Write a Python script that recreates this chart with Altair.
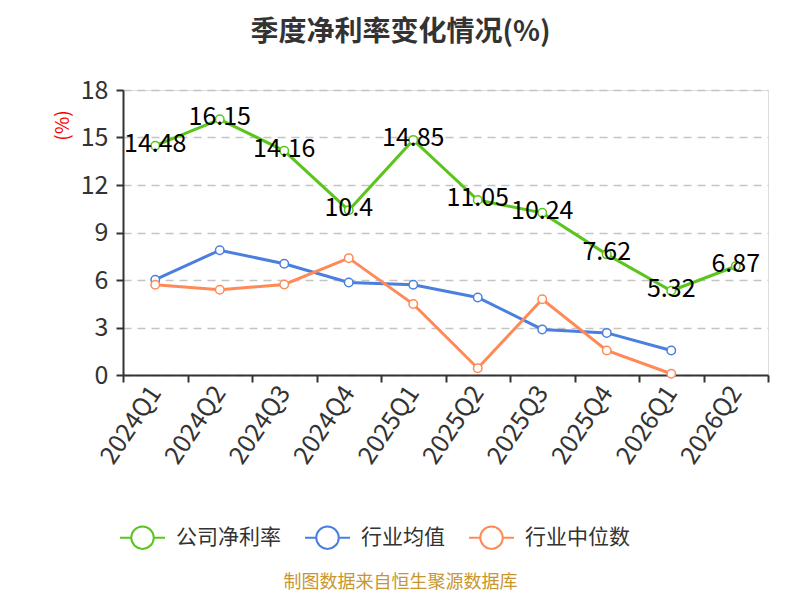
import altair as alt
import pandas as pd

quarters = ["2024Q1", "2024Q2", "2024Q3", "2024Q4", "2025Q1", "2025Q2",
            "2025Q3", "2025Q4", "2026Q1", "2026Q2"]
company = [14.48, 16.15, 14.16, 10.4, 14.85, 11.05, 10.24, 7.62, 5.32, 6.87]
industry_mean = [6.02, 7.88, 7.03, 5.84, 5.70, 4.90, 2.88, 2.66, 1.55, None]
industry_median = [5.70, 5.38, 5.72, 7.38, 4.48, 0.43, 4.78, 1.55, 0.08, None]

series_names = ["公司净利率", "行业均值", "行业中位数"]
series_colors = ["#5bc41d", "#4a7fdf", "#ff8a57"]

rows = []
for name, vals in zip(series_names, [company, industry_mean, industry_median]):
    for q, v in zip(quarters, vals):
        if v is not None:
            rows.append({"季度": q, "系列": name, "值": v})
df = pd.DataFrame(rows)
labels_df = pd.DataFrame({"季度": quarters, "值": company,
                          "标签": [f"{v:g}" for v in company]})

FONT = "Noto Sans CJK SC"

x_enc = alt.X(
    "季度:N", sort=quarters,
    scale=alt.Scale(paddingInner=0, paddingOuter=0),
    axis=alt.Axis(
        title="制图数据来自恒生聚源数据库", titleColor="#c8962e", titleFontSize=18,
        titleFontWeight="normal", titleFont=FONT,
        titleX=277, titleY=207, titleAnchor="middle", titleAlign="center",
        titleBaseline="middle",
        labelAngle=-56, labelAlign="right", labelBaseline="middle",
        labelFontSize=25, labelColor="#333", labelFont=FONT, labelPadding=6,
        tickBand="extent", tickSize=7, tickColor="#333", tickWidth=2,
        domainColor="#333", domainWidth=2, grid=False,
    ),
)
y_enc = alt.Y(
    "值:Q",
    scale=alt.Scale(domain=[0, 18], nice=False),
    axis=alt.Axis(
        title="(%)", titleColor="red", titleFontSize=19, titleFontWeight="normal",
        titleFont=FONT, titleX=-61, titleY=35, titleAlign="center",
        titleBaseline="middle", titleAngle=-90,
        values=[0, 3, 6, 9, 12, 15, 18],
        labelFontSize=25, labelColor="#333", labelFont=FONT, labelPadding=8,
        tickSize=7, tickColor="#333", tickWidth=2,
        domainColor="#333", domainWidth=2,
        grid=True, gridColor="#c4c4c4", gridDash=[8, 6], gridWidth=1.5,
    ),
)
color_enc = alt.Color(
    "系列:N", sort=series_names,
    scale=alt.Scale(domain=series_names, range=series_colors),
    legend=alt.Legend(
        title=None, orient="none", direction="horizontal", legendX=-4, legendY=424,
        symbolType="M-1,0L-0.5,0M0.5,0L1,0M-0.5,0A0.5,0.5,0,1,1,0.5,0A0.5,0.5,0,1,1,-0.5,0Z",
        symbolSize=2025, symbolStrokeWidth=2, symbolFillColor="white",
        labelFontSize=21, labelColor="#333", labelFont=FONT, labelOffset=10,
        columnPadding=20, padding=0,
    ),
)

base = alt.Chart(df)
lines = base.mark_line(strokeWidth=3).encode(x=x_enc, y=y_enc, color=color_enc)
points = base.mark_point(filled=False, fill="white", size=72, strokeWidth=1.5,
                         opacity=1).encode(x=x_enc, y=y_enc, color=color_enc)
texts = alt.Chart(labels_df).mark_text(
    fontSize=25, font=FONT, color="black", align="center", baseline="middle", dy=-2
).encode(x=alt.X("季度:N", sort=quarters), y="值:Q", text="标签:N")

chart = alt.layer(lines, points, texts).properties(
    width=645, height=285,
    title=alt.TitleParams("季度净利率变化情况(%)", fontSize=28, fontWeight="bold",
                          color="#333", font=FONT, anchor="middle", dx=-45,
                          offset=31),
    autosize=alt.AutoSizeParams(type="none"),
    padding={"left": 115, "top": 82, "right": 24, "bottom": 217},
).configure_view(stroke=None).configure(background="white")

chart.save("out.html", embed_options={"renderer": "svg", "actions": False})
